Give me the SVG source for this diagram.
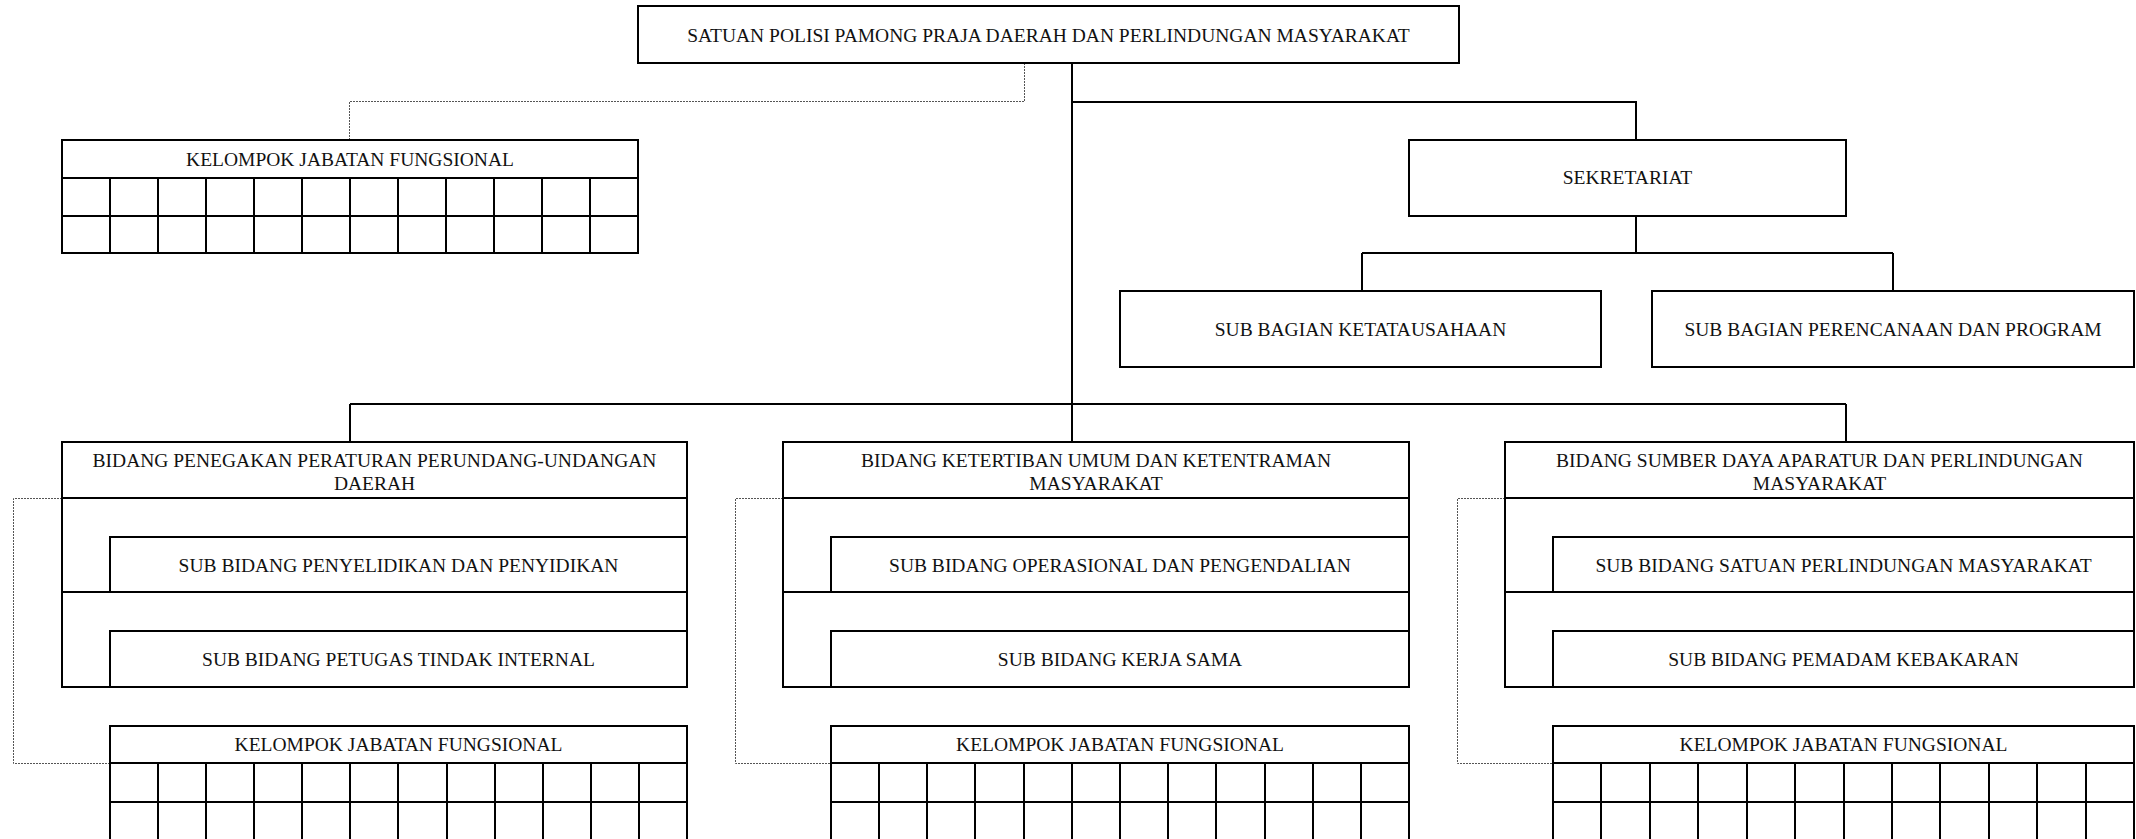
<svg xmlns="http://www.w3.org/2000/svg" width="2136" height="839" viewBox="0 0 2136 839">
  <style>
    .box { fill: #fff; stroke: #000; stroke-width: 2; }
    .ln { fill: none; stroke: #000; stroke-width: 2; }
    .dot { fill: none; stroke: #555; stroke-width: 1; stroke-dasharray: 2 1; }
    .t { font-family: "Liberation Serif", "Times New Roman", serif; font-size: 19.5px; text-anchor: middle; fill: #111; }
  </style>
  <rect width="2136" height="839" fill="#fff"/>

  <!-- connectors -->
  <g id="connectors">
    <!-- head to sekretariat and to the bidang bus -->
    <path class="ln" d="M1072 63 V404 M1072 102 H1636 V140"/>
    <!-- sekretariat to its two sub bagian -->
    <path class="ln" d="M1636 216 V253 M1362 253 H1893 M1362 253 V291 M1893 253 V291"/>
    <!-- bidang bus -->
    <path class="ln" d="M350 404 H1846 M350 404 V442 M1072 404 V442 M1846 404 V442"/>
    <!-- dotted lines to functional groups -->
    <path class="dot" d="M1024.5 63 V101.5 H349.5 V140"/>
    <path class="dot" d="M62 498.5 H13.5 V763.5 H110"/>
    <path class="dot" d="M783 498.5 H735.5 V763.5 H831"/>
    <path class="dot" d="M1505 498.5 H1457.5 V763.5 H1553"/>
  </g>

  <!-- head -->
  <g id="node-head">
    <rect class="box" x="638" y="6" width="821" height="57"/>
    <text class="t" x="1048.5" y="42">SATUAN POLISI PAMONG PRAJA DAERAH DAN PERLINDUNGAN MASYARAKAT</text>
  </g>

  <!-- functional group under the head -->
  <g id="node-kjf-head">
    <rect class="box" x="62" y="140" width="576" height="113"/>
    <path class="ln" d="M62 178 H638 M62 216 H638 M110 178 V253 M158 178 V253 M206 178 V253 M254 178 V253 M302 178 V253 M350 178 V253 M398 178 V253 M446 178 V253 M494 178 V253 M542 178 V253 M590 178 V253"/>
    <text class="t" x="350" y="165.5">KELOMPOK JABATAN FUNGSIONAL</text>
  </g>

  <!-- sekretariat -->
  <g id="node-sekretariat">
    <rect class="box" x="1409" y="140" width="437" height="76"/>
    <text class="t" x="1627.5" y="184">SEKRETARIAT</text>
  </g>
  <g id="node-subbag-ketatausahaan">
    <rect class="box" x="1120" y="291" width="481" height="76"/>
    <text class="t" x="1360.5" y="335.5">SUB BAGIAN KETATAUSAHAAN</text>
  </g>
  <g id="node-subbag-perencanaan">
    <rect class="box" x="1652" y="291" width="482" height="76"/>
    <text class="t" x="1893" y="335.5">SUB BAGIAN PERENCANAAN DAN PROGRAM</text>
  </g>

  <!-- bidang 1 -->
  <g id="node-bidang-penegakan">
    <rect class="box" x="62" y="442" width="625" height="245"/>
    <path class="ln" d="M62 498 H687 M62 592 H110"/>
    <text class="t" x="374.5" y="467">BIDANG PENEGAKAN PERATURAN PERUNDANG-UNDANGAN</text>
    <text class="t" x="374.5" y="490">DAERAH</text>
  </g>
  <g id="node-subbid-penyelidikan">
    <rect class="box" x="110" y="537" width="577" height="55"/>
    <text class="t" x="398.5" y="571.5">SUB BIDANG PENYELIDIKAN DAN PENYIDIKAN</text>
  </g>
  <g id="node-subbid-petugas">
    <rect class="box" x="110" y="631" width="577" height="56"/>
    <text class="t" x="398.5" y="665.5">SUB BIDANG PETUGAS TINDAK INTERNAL</text>
  </g>
  <g id="node-kjf-1">
    <rect class="box" x="110" y="726" width="577" height="114"/>
    <path class="ln" d="M110 763 H687 M110 802 H687 M158 763 V840 M206 763 V840 M254 763 V840 M302 763 V840 M350 763 V840 M398 763 V840 M447 763 V840 M495 763 V840 M543 763 V840 M591 763 V840 M639 763 V840"/>
    <text class="t" x="398.5" y="751">KELOMPOK JABATAN FUNGSIONAL</text>
  </g>

  <!-- bidang 2 -->
  <g id="node-bidang-ketertiban">
    <rect class="box" x="783" y="442" width="626" height="245"/>
    <path class="ln" d="M783 498 H1409 M783 592 H831"/>
    <text class="t" x="1096" y="467">BIDANG KETERTIBAN UMUM DAN KETENTRAMAN</text>
    <text class="t" x="1096" y="490">MASYARAKAT</text>
  </g>
  <g id="node-subbid-operasional">
    <rect class="box" x="831" y="537" width="578" height="55"/>
    <text class="t" x="1120" y="571.5">SUB BIDANG OPERASIONAL DAN PENGENDALIAN</text>
  </g>
  <g id="node-subbid-kerjasama">
    <rect class="box" x="831" y="631" width="578" height="56"/>
    <text class="t" x="1120" y="665.5">SUB BIDANG KERJA SAMA</text>
  </g>
  <g id="node-kjf-2">
    <rect class="box" x="831" y="726" width="578" height="114"/>
    <path class="ln" d="M831 763 H1409 M831 802 H1409 M879 763 V840 M927 763 V840 M975 763 V840 M1024 763 V840 M1072 763 V840 M1120 763 V840 M1168 763 V840 M1216 763 V840 M1265 763 V840 M1313 763 V840 M1361 763 V840"/>
    <text class="t" x="1120" y="751">KELOMPOK JABATAN FUNGSIONAL</text>
  </g>

  <!-- bidang 3 -->
  <g id="node-bidang-sumberdaya">
    <rect class="box" x="1505" y="442" width="629" height="245"/>
    <path class="ln" d="M1505 498 H2134 M1505 592 H1553"/>
    <text class="t" x="1819.5" y="467">BIDANG SUMBER DAYA APARATUR DAN PERLINDUNGAN</text>
    <text class="t" x="1819.5" y="490">MASYARAKAT</text>
  </g>
  <g id="node-subbid-satlinmas">
    <rect class="box" x="1553" y="537" width="581" height="55"/>
    <text class="t" x="1843.5" y="571.5">SUB BIDANG SATUAN PERLINDUNGAN MASYARAKAT</text>
  </g>
  <g id="node-subbid-pemadam">
    <rect class="box" x="1553" y="631" width="581" height="56"/>
    <text class="t" x="1843.5" y="665.5">SUB BIDANG PEMADAM KEBAKARAN</text>
  </g>
  <g id="node-kjf-3">
    <rect class="box" x="1553" y="726" width="581" height="114"/>
    <path class="ln" d="M1553 763 H2134 M1553 802 H2134 M1601 763 V840 M1650 763 V840 M1698 763 V840 M1747 763 V840 M1795 763 V840 M1844 763 V840 M1892 763 V840 M1940 763 V840 M1989 763 V840 M2037 763 V840 M2086 763 V840"/>
    <text class="t" x="1843.5" y="751">KELOMPOK JABATAN FUNGSIONAL</text>
  </g>
</svg>
